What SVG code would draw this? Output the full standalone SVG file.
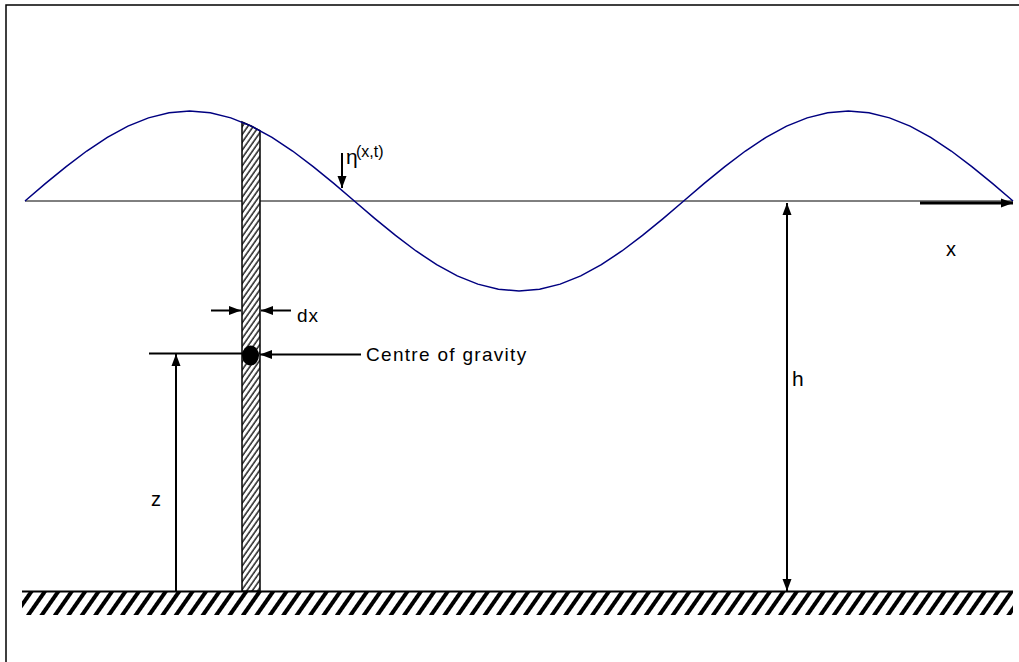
<svg xmlns="http://www.w3.org/2000/svg" width="1019" height="662" viewBox="0 0 1019 662">
<style>
.t{font-family:"Liberation Sans",Arial,sans-serif;fill:#000}
.ln{stroke:#000;fill:none}
</style>
<defs>
<marker id="ah" viewBox="0 0 12 10" refX="12" refY="5" markerWidth="12" markerHeight="10" markerUnits="userSpaceOnUse" orient="auto"><path d="M0,0.5 L12,5 L0,9.5 Z" fill="#000"/></marker>
<pattern id="gh" patternUnits="userSpaceOnUse" width="11" height="11" patternTransform="rotate(35)"><line x1="2" y1="0" x2="2" y2="11" stroke="#000" stroke-width="4"/></pattern>
<pattern id="ch" patternUnits="userSpaceOnUse" width="4.5" height="4.5" patternTransform="rotate(35)"><line x1="1" y1="0" x2="1" y2="4.5" stroke="#000" stroke-width="1.3"/></pattern>
</defs>
<rect x="6" y="5" width="1100" height="800" fill="#fff" stroke="#000" stroke-width="1.5"/>
<g id="ground">
<rect x="22" y="592" width="991" height="23" fill="url(#gh)"/>
<line x1="22" y1="591.5" x2="1013" y2="591.5" class="ln" stroke-width="2"/>
</g>
<g id="water-level">
<line x1="25" y1="201" x2="1013" y2="201" class="ln" stroke-width="1"/>
</g>
<g id="column">
<polygon points="242,122 251,126 260,130.6 260,591 242,591" fill="#fff"/>
<polygon points="242,122 251,126 260,130.6 260,591 242,591" fill="url(#ch)" stroke="#000" stroke-width="1.5"/>
</g>
<g id="wave">
<polyline fill="none" stroke="#000080" stroke-width="1.5" points="25,201 45.58,183.44 66.17,166.56 86.75,151 107.33,137.36 127.92,126.17 148.5,117.85 169.08,112.73 189.67,111 210.25,112.73 230.83,117.85 251.42,126.17 272,137.36 292.58,151 313.17,166.56 333.75,183.44 354.33,201 374.92,218.56 395.5,235.44 416.08,251 436.67,264.64 457.25,275.83 477.83,284.15 498.42,289.27 519,291 539.58,289.27 560.17,284.15 580.75,275.83 601.33,264.64 621.92,251 642.5,235.44 663.08,218.56 683.67,201 704.25,183.44 724.83,166.56 745.42,151 766,137.36 786.58,126.17 807.17,117.85 827.75,112.73 848.33,111 868.92,112.73 889.5,117.85 910.08,126.17 930.67,137.36 951.25,151 971.83,166.56 992.42,183.44 1013,201"/>
</g>
<g id="centre-of-gravity">
<ellipse cx="250.5" cy="355.5" rx="8.5" ry="10" fill="#000"/>
</g>
<g id="connectors" stroke="#000" fill="none">
<line x1="920" y1="203" x2="1013" y2="203" stroke-width="3" marker-end="url(#ah)"/>
<line x1="787" y1="591" x2="787" y2="203" stroke-width="2" marker-end="url(#ah)"/>
<line x1="787" y1="203" x2="787" y2="591" stroke-width="2" marker-end="url(#ah)"/>
<line x1="149" y1="353.5" x2="242" y2="353.5" stroke-width="2"/>
<line x1="176" y1="591" x2="176" y2="354" stroke-width="2" marker-end="url(#ah)"/>
<line x1="361" y1="354.5" x2="260" y2="354.5" stroke-width="2" marker-end="url(#ah)"/>
<line x1="211" y1="310.5" x2="241" y2="310.5" stroke-width="2" marker-end="url(#ah)"/>
<line x1="291" y1="310.5" x2="261" y2="310.5" stroke-width="2" marker-end="url(#ah)"/>
<line x1="342" y1="153" x2="342" y2="188" stroke-width="2" marker-end="url(#ah)"/>
</g>
<g id="labels">
<text class="t" x="346" y="164" font-size="21">η</text>
<text class="t" x="356" y="157" font-size="16">(x,t)</text>
<text class="t" x="946" y="256" font-size="20">x</text>
<text class="t" x="792" y="386" font-size="21">h</text>
<text class="t" x="151" y="506" font-size="20">z</text>
<text class="t" x="297" y="322" font-size="19" letter-spacing="1">dx</text>
<text class="t" x="366" y="361" font-size="19" letter-spacing="1.3">Centre of gravity</text>
</g>
</svg>
